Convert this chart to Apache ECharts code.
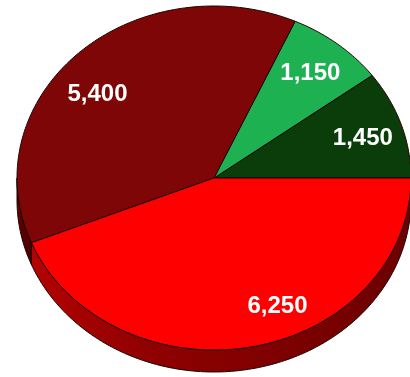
<!DOCTYPE html>
<html>
<head>
<meta charset="utf-8">
<script src="https://cdn.jsdelivr.net/npm/echarts@6/dist/echarts.min.js"></script>
<style>
  html, body { margin: 0; padding: 0; background: #ffffff; }
  #main { width: 410px; height: 377px; }
</style>
</head>
<body>
<div id="main"></div>
<script>
// Slices, counter-clockwise from 3 o'clock
const sliceNames = ['Segment A', 'Segment B', 'Segment C', 'Segment D'];
const sliceValues = [1450, 1150, 5400, 6250];

// Styles for each slice (top face / side wall shading, left to right)
const topColors = ['#0b3d0b', '#1db152', '#7e0606', '#ff0000'];
const sideShades = [
  ['#062606', '#062606'],
  ['#0f6e31', '#0f6e31'],
  ['#6a0000', '#4e0000'],
  ['#b40202', '#6c0000']
];
// Small nudges for the value labels, in pixels
const labelNudge = [[3, 3], [0, 0], [-10, 13], [34, -3]];

// Tilted pie geometry
const CX = 214, CY = 178, RX = 197, RY = 172, DEPTH = 22, LABEL_R = 0.78;
const EDGE = '#1a0505';

const total = sliceValues.reduce((a, b) => a + b, 0);

function sliceAngles(i) {
  let s = 0;
  for (let k = 0; k < i; k++) s += sliceValues[k];
  return [s / total * 360, (s + sliceValues[i]) / total * 360];
}
function pt(deg, dy, f) {
  const r = deg * Math.PI / 180, k = f == null ? 1 : f;
  return [CX + RX * k * Math.cos(r), CY - RY * k * Math.sin(r) + (dy || 0)];
}
function arc(a1, a2, dy) {
  const n = Math.max(2, Math.ceil(Math.abs(a2 - a1)));
  const out = [];
  for (let j = 0; j <= n; j++) out.push(pt(a1 + (a2 - a1) * j / n, dy));
  return out;
}

const chart = echarts.init(document.getElementById('main'), null, { renderer: 'canvas' });
const seriesData = sliceValues.map((v, i) => ({ name: sliceNames[i], value: v }));

chart.setOption({
  animation: false,
  series: [
    {
      // side walls of the front half
      type: 'custom',
      coordinateSystem: 'none',
      data: seriesData,
      renderItem: function (params, api) {
        const i = params.dataIndex;
        const [a1, a2] = sliceAngles(i);
        const s = Math.max(a1, 180), e = Math.min(a2, 360);
        if (e <= s) return { type: 'group', children: [] };
        const pts = arc(s, e, 0).concat(arc(e, s, DEPTH));
        const shade = sideShades[i];
        return {
          type: 'polygon',
          shape: { points: pts },
          style: {
            fill: new echarts.graphic.LinearGradient(0, 0, 1, 0, [
              { offset: 0, color: shade[0] },
              { offset: 0.3, color: echarts.color.lerp(0.5, [shade[0], shade[1]]) },
              { offset: 1, color: shade[1] }
            ]),
            stroke: EDGE,
            lineWidth: 1
          }
        };
      }
    },
    {
      // top faces with value labels
      type: 'custom',
      coordinateSystem: 'none',
      data: seriesData,
      renderItem: function (params, api) {
        const i = params.dataIndex;
        const v = api.value(0);
        const [a1, a2] = sliceAngles(i);
        const pts = [[CX, CY]].concat(arc(a1, a2, 0));
        const mid = (a1 + a2) / 2;
        const lp = pt(mid, 0, LABEL_R);
        return {
          type: 'group',
          children: [
            {
              type: 'polygon',
              shape: { points: pts },
              style: { fill: topColors[i], stroke: EDGE, lineWidth: 1 }
            },
            {
              type: 'text',
              x: lp[0] + labelNudge[i][0],
              y: lp[1] + labelNudge[i][1],
              z2: 10,
              style: {
                text: v.toLocaleString('en-US'),
                fill: '#ffffff',
                font: 'bold 24px "Liberation Sans", Arial, sans-serif',
                align: 'center',
                verticalAlign: 'middle'
              }
            }
          ]
        };
      }
    }
  ]
});
</script>
</body>
</html>
